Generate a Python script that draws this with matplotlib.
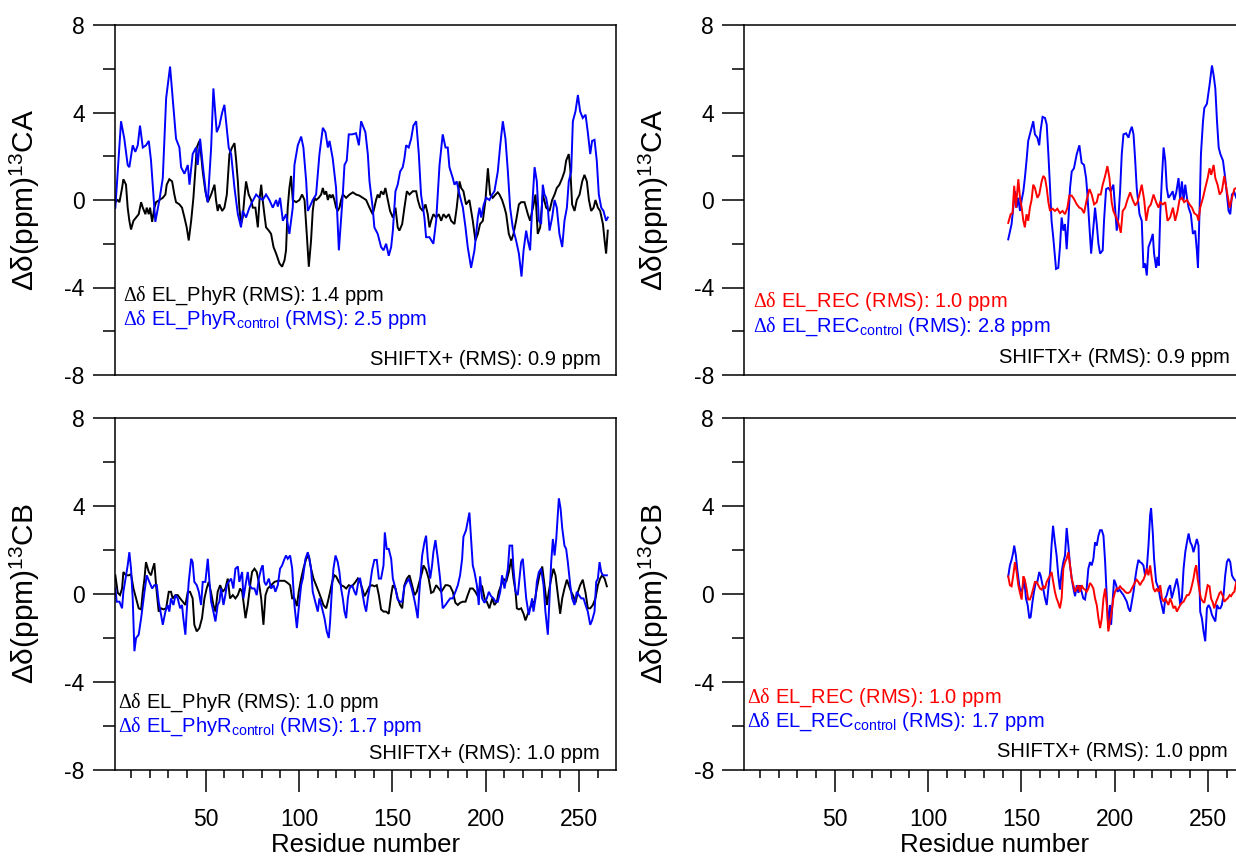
import matplotlib
matplotlib.use("Agg")
import matplotlib.pyplot as plt
from matplotlib.ticker import MultipleLocator

plt.rcParams['font.family'] = ['Liberation Sans', 'DejaVu Sans']
plt.rcParams['mathtext.fontset'] = 'custom'
plt.rcParams['mathtext.rm'] = 'Liberation Serif'
plt.rcParams['mathtext.sf'] = 'Liberation Sans'
plt.rcParams['mathtext.it'] = 'Liberation Serif:italic'
plt.rcParams['mathtext.bf'] = 'Liberation Serif:bold'

# ---------------- data (residue, delta ppm) ----------------
ca_phyr = [(1.7,-0.1),(3,0),(3.9,-0.1),(5.3,0.55),(6,0.95),(7.4,0.7),(8.3,-0.35),(9.2,-0.95),(10.1,-1.35),(11.4,-0.95),
 (12.8,-0.8),(14.2,-0.65),(15.5,-0.1),(16.4,-0.35),(17.8,-0.65),(18.5,-0.35),(19.6,-0.65),(20.3,-0.35),(21.4,-1.0),(22.6,-0.35),
 (23.5,-0.1),(25.3,0),(27.1,0.1),(28.5,0.25),(29.2,0.7),(30.6,0.95),(32.1,0.85),(33.3,0.25),(34.2,-0.1),(36,-0.2),
 (37.4,-0.35),(38.7,-0.8),(39.9,-1.25),(41,-1.85),(42.3,-0.95),(43.5,0.1),(44.6,1.45),(45.3,2.4),(46.7,2.7),(47.6,2.1),
 (48.5,1.3),(49.9,0.4),(51.2,-0.1),(53,0.25),(54.8,0.7),(55.6,0),(56.5,-0.5),(57.4,-0.2),(58.9,-0.5),(60.1,-0.35),
 (61.4,0.25),(62.8,2.1),(64.2,2.4),(65.5,2.6),(66.4,1.8),(67.3,0.85),(68.1,-0.35),(69,-1.1),(69.9,-0.8),(70.8,0.1),
 (71.7,0.85),(73.1,0.25),(74.4,0),(75.3,-0.35),(76.7,-0.35),(78,-1.25),(78.9,0),(79.8,0.7),(80.6,0),(81.5,-0.65),
 (82.4,-1.25),(83.9,-1.4),(85.1,-1.55),(86.4,-2.15),(87.8,-2.45),(89.6,-2.9),(91,-3.05),(92.3,-2.75),(93.1,-2.3),(94,-0.35),
 (94.9,0.55),(95.8,1.1),(96.7,0),(98.5,-0.1),(100.3,0),(101.7,0.25),(103,0),(104.2,-1.55),(105.3,-3.05),(106.5,-1.85),
 (107.4,-0.5),(108.3,0.1),(109.2,0),(110.6,0.1),(111.9,0.25),(112.8,0.55),(113.7,0.25),(114.6,0.4),(115.5,0),(116.4,0.25),
 (117.3,0.1),(118.1,0.25),(119,0),(119.9,-0.35),(120.8,-0.5),(121.7,-0.35),(122.6,0),(123.5,0.25),(125.3,0.1),(127.1,0.25),
 (128.9,0.35),(130.6,0.25),(132.4,0.2),(134.2,0.1),(136,0),(137.8,-0.35),(139.5,-0.65),(140.4,-0.35),(141.3,0),(142.2,0.25),
 (143.1,0.1),(144,0.4),(145.3,0.25),(146.3,0.55),(147.6,0),(148.8,-0.5),(150.3,-0.8),(151.7,-0.35),(152.9,-1.25),(153.8,-1.4),
 (155.3,-1.1),(156.5,-0.35),(157.8,0.4),(159.2,0.25),(161,0.4),(162.8,0.4),(163.7,0),(164.9,-0.35),(166.3,-0.5),(167.8,-0.2),
 (169,-0.65),(169.9,-1.25),(170.8,-0.95),(172,-0.65),(173.5,-0.8),(174.9,-0.65),(176.2,-0.95),(177.4,-0.65),(178.8,-0.8),(180.3,-0.65),
 (181.5,-0.95),(183.3,-1.1),(184.5,-0.35),(186,0.85),(186.9,0.55),(188.1,0.4),(189.5,-0.2),(191.3,0),(193.1,-0.95),(194.5,-1.85),
 (195.8,-1.55),(197,-1.1),(198.5,-0.95),(199.9,0),(201.2,1.45),(202.4,0.25),(203.8,0.1),(205.3,0.25),(206.5,0.35),(207.4,0.25),
 (208.8,0),(210.1,-0.35),(211,-0.65),(212.4,-1.55),(213.7,-1.85),(214.9,-1.55),(216.3,-0.95),(217.8,-0.2),(219,-0.1),(220.8,-0.1),
 (222.6,-0.65),(223.8,-0.95),(225.3,-0.35),(226.7,0.25),(227.9,-1.55),(229.2,-1.25),(230.6,0.25),(232.4,-0.35),(234.2,-0.5),(235.6,0),
 (236.9,0.25),(238.1,0.55),(239.5,0.7),(241,1.0),(242.2,1.3),(243.1,1.8),(244.5,2.1),(245.3,1.45),(246.3,-0.2),(247.6,-0.5),
 (248.8,0),(250.3,0.25),(251.7,0.85),(252.9,1.15),(254.2,0.85),(255.3,0),(256.5,-0.5),(257.8,-0.35),(258.8,0),(260.1,-0.35),
 (261.3,-0.5),(262.8,-1.1),(263.7,-1.85),(264.5,-2.45),(265.4,-1.4)]

ca_phyr_control = [(1.7,-0.35),(4.75,3.6),(6.5,2.8),(8.3,1.6),(9.2,1.5),(11,2.5),(12.4,2.2),(13.7,2.5),(14.9,3.4),(16.4,2.4),
 (18.1,2.5),(19.6,2.7),(20.8,1.8),(23.1,-1.0),(25.3,0),(27.1,1.0),(28.9,4.65),(31,6.1),(32.4,4.65),(34.2,2.8),
 (36,2.4),(36.9,1.5),(38.7,1.2),(40.5,1.6),(41.4,0.7),(43.1,2.1),(44.9,2.4),(45.8,1.6),(47.1,2.8),(48.5,1.6),
 (50.3,0.25),(51.2,-0.1),(53,2.4),(54.2,5.1),(56,3.1),(57.4,3.4),(58.9,4.0),(60.1,4.35),(61,3.6),(62.4,2.4),
 (63.7,2.1),(65.5,0.55),(67.3,-0.65),(69,-1.25),(69.9,-0.5),(71.7,-0.8),(73.5,-0.35),(74.9,-0.1),(77.1,0.25),(78.9,0.1),
 (80.6,0),(82.4,0.25),(84.2,0),(86,-0.35),(87.8,0),(88.7,-0.3),(89.9,0.1),(91.4,-0.95),(93.1,-0.65),(94.9,-1.55),
 (96.7,-0.35),(97.6,1.6),(99.4,2.5),(101.2,2.9),(102.4,2.4),(103.9,0.85),(104.75,-0.5),(105.6,-0.35),(107.4,0),(109.2,0.25),
 (111,2.1),(112.8,3.3),(114.2,3.1),(115.5,2.4),(116.4,2.7),(118.1,1.9),(119.9,0.55),(121.4,-2.3),(123.5,0.25),(124.4,1.6),
 (125.6,1.8),(126.7,3.0),(128.5,3.0),(130.6,3.05),(132.1,2.5),(133.3,3.6),(135.6,3.1),(136.9,2.1),(137.8,0.85),(139.5,-0.35),
 (140.4,-1.25),(142.2,-1.55),(144,-2.15),(145.3,-2.3),(146.7,-2.0),(148.1,-2.55),(149.4,-2.15),(150.3,-1.4),(151.7,0.4),(152.9,0.7),
 (154.2,1.3),(155.6,1.5),(156.5,1.9),(157.4,2.5),(158.8,2.4),(160.1,2.8),(161.3,3.4),(162.8,3.6),(164.2,2.1),(165.4,0.25),
 (167.2,-0.8),(168.1,-1.7),(169.9,-1.7),(172,-2.0),(173.5,-0.95),(175.3,1.6),(177,3.0),(178.5,2.4),(179.7,2.4),(180.6,1.5),
 (182.4,1.0),(183.3,0.7),(184.5,0.85),(186,0.25),(187.8,-0.35),(189.2,-1.25),(190.4,-2.15),(192.2,-3.1),(194,-2.3),(195.8,-0.8),
 (196.7,-0.35),(197.6,-0.8),(199,-0.2),(200.3,0.1),(202,0),(203.5,0.25),(204.7,0.4),(206.5,1.3),(207.8,2.5),(209.2,3.6),
 (210.6,2.8),(211.9,1.3),(213.1,-0.35),(214.5,-1.25),(216.3,-1.85),(217.8,-2.45),(219.2,-3.5),(220.3,-2.3),(221.7,-1.4),(222.6,-1.85),
 (223.8,-2.3),(224.9,-0.35),(226.2,1.5),(227.4,0.85),(228.5,-0.95),(229.7,-1.1),(230.6,0.7),(231.5,0.25),(232.4,0.1),(233.3,-0.35),
 (234.2,-1.4),(235.6,-0.8),(236.9,0),(238.1,-0.35),(239.5,-1.55),(241,-2.15),(242.2,-0.95),(243.5,-0.35),(244.5,0.85),(245.8,1.3),
 (246.7,3.6),(248.1,4.05),(249.4,4.8),(250.6,4.05),(252,3.75),(253.5,3.9),(254.7,3.1),(256,2.1),(257,2.7),(258.3,2.75),
 (259.5,1.8),(260.6,0.25),(261.9,-0.35),(263.1,-0.5),(264.5,-0.95),(265.4,-0.8)]

ca_rec = [(142.9,-1.05),(144.2,-0.65),(145.2,-0.6),(146.1,0.65),(147,-0.35),(148.3,0.95),(149.2,0.1),(150.1,-0.35),(151,-0.95),(151.8,-1.25),
 (152.7,-0.65),(153.6,-0.95),(154.5,-0.35),(155.4,0),(156.3,0.7),(157.2,0.55),(158.5,0.1),(159.5,0.25),(160.8,0.85),(161.7,1.1),
 (162.6,1.0),(163.5,0.55),(164.4,-0.1),(165.3,-0.5),(166.7,-0.4),(167.9,-0.5),(169.2,-0.4),(170.6,-0.6),(172,-0.5),(173.3,-0.65),
 (174.6,-0.35),(175.6,0.2),(176.9,0.2),(178.1,0.05),(179.6,-0.2),(181,-0.35),(182.2,-0.4),(183.5,-0.6),(184.9,0),(186.4,0.5),
 (187.6,0.25),(188.9,-0.2),(190.3,-0.1),(191.2,0.25),(192.4,0.25),(193.5,0.7),(194.8,1.1),(196,1.55),(197.1,1.0),(198.3,-0.1),
 (199.2,-0.5),(200.7,-0.8),(201.9,-1.05),(203.2,-1.5),(204.2,-0.5),(205.5,-0.35),(206.7,0),(208.2,0.35),(209.6,0),(210.9,-0.25),
 (212.1,-0.1),(213.2,0.25),(214.4,0.7),(215.7,0),(216.8,-0.95),(218,-0.35),(219.3,-0.2),(220.7,0.25),(222.1,-0.1),(223.4,-0.35),
 (224.3,-0.1),(225.7,-0.2),(227,-0.1),(228.2,-0.95),(229.6,-0.8),(231.1,-0.35),(232.3,-0.95),(233.6,-0.5),(234.6,0),(235.9,0.1),
 (237.1,-0.1),(238.6,0),(240,-0.2),(241.3,-0.35),(242.5,-0.6),(244,-0.7),(244.8,-0.95),(245.7,-0.35),(247.2,0.1),(248.4,0.55),
 (249.7,1.0),(250.7,1.45),(251.6,1.15),(252.9,1.6),(253.8,1.0),(255,0.7),(256.1,0.25),(257.3,0.4),(258.6,1.1),(260,0.4),
 (261.5,-0.35),(262.7,0.1),(264,0.5),(265,0.55)]

ca_rec_control = [(142.9,-1.8),(144.7,-1.1),(145.6,-0.35),(146.5,0.4),(147.4,-0.35),(148.3,0.1),(149.2,-0.5),(150.1,0),(151,0.4),(151.8,1.0),
 (152.7,1.8),(153.6,2.7),(154.5,3.0),(155.4,3.3),(156.3,3.6),(157.2,3.0),(158.5,2.85),(159.5,2.5),(160.2,3.15),(161.3,3.8),
 (162.6,3.75),(163.5,3.45),(164.4,2.1),(165.3,0.55),(166.1,-0.95),(167,-1.7),(168.5,-3.15),(169.7,-3.1),(170.6,-2.15),(171.5,-0.8),
 (172.4,-1.4),(173.3,-1.1),(174.2,-2.25),(175.1,-0.95),(176,0.55),(176.9,1.3),(178.1,1.45),(179.6,2.1),(181,2.5),(182.2,1.7),
 (183.5,1.6),(184.6,1.0),(185.3,0.25),(186.4,-1.25),(187.3,-2.45),(188.5,-1.25),(189.4,-0.35),(190.3,-1.1),(191.2,-2.0),(192.1,-2.45),
 (193.5,-2.3),(194.2,-0.95),(195.3,0.5),(196.5,0.55),(197.8,0.4),(199.2,0.7),(200.1,-0.35),(201,-1.4),(201.9,-0.8),(202.8,0.4),
 (203.7,2.1),(204.6,3.0),(206,3.05),(207.3,2.85),(208.2,3.15),(209.1,3.35),(210,3.0),(210.9,1.8),(211.7,0.55),(213.2,-0.65),
 (214.4,-0.95),(215.3,-3.1),(216.2,-2.9),(217.1,-3.45),(218,-2.15),(219.3,-1.85),(220.3,-1.55),(221,-2.45),(222.1,-3.1),(222.8,-2.6),
 (223.5,-3.0),(224.3,-0.65),(225.2,1.0),(226.1,2.4),(227,1.8),(227.8,0.55),(228.7,0.1),(230,0.25),(231,0.4),(231.8,0),
 (232.9,0.35),(234.1,1.0),(235,0),(235.9,0.85),(236.8,0),(237.7,0.7),(238.6,0.1),(239.5,-0.35),(240.7,-0.65),(241.8,-1.55),
 (243,-1.4),(243.9,-2.3),(244.5,-3.1),(245.4,-0.35),(246.1,2.1),(247.2,3.6),(247.9,4.2),(249.3,4.4),(250.7,5.25),(252,6.15),
 (252.9,5.7),(253.8,5.1),(254.7,3.6),(255.6,2.4),(256.5,2.1),(257.9,1.8),(259.1,1.0),(260,0.25),(260.9,-0.5),(261.8,-0.65),
 (262.7,0.25),(264,0.35),(265,0.1)]

cb_phyr = [(1.7,0.85),(3,0.05),(4.2,-0.05),(5.3,0.25),(6,1.0),(7.4,0.85),(8.9,0.85),(10.1,0.9),(11.4,0.25),(12.8,-0.2),
 (14.2,-0.65),(15.5,-0.7),(16.4,0.1),(17.3,0.7),(18.1,1.45),(19.6,1.0),(20.8,0.85),(21.7,1.15),(22.6,1.4),(23.5,0.4),
 (24.9,-0.8),(26.2,-0.65),(27.4,-0.7),(28.9,-0.65),(30.3,0.1),(31.5,0.1),(32.4,-0.2),(33.9,-0.05),(35.1,-0.05),(36.4,-0.2),
 (37.8,-0.35),(39.2,-0.5),(40.5,0.1),(41.7,0.1),(43.1,-0.2),(44,-1.4),(45.3,-1.7),(46.7,-1.55),(48.1,-1.1),(49.4,-0.2),
 (50.6,0.25),(51.7,0.55),(53,0.05),(54.2,-0.5),(55.3,-0.8),(56.5,0.1),(57.8,0.4),(59.2,0.1),(60.6,0.25),(61.9,0.7),
 (63.1,-0.2),(64.6,-0.05),(66,-0.2),(67.3,-0.05),(68.5,0.25),(69.6,0.1),(70.3,-0.35),(71.4,-1.1),(72.6,-0.5),(73.9,0.4),
 (74.9,1.0),(76.2,1.15),(77.4,1.0),(78.5,0.55),(79.8,-0.2),(81,-1.4),(82.1,-0.05),(83.3,0.25),(85.1,0.4),(86.9,0.55),
 (88.7,0.6),(90.5,0.6),(92.3,0.6),(94,0.5),(95.3,0.4),(96.4,-0.2),(97.6,-0.2),(98.9,-0.55),(99.9,0.1),(101.2,0.7),
 (102.4,1.15),(103.9,1.6),(105.3,1.75),(106.5,1.15),(107.8,0.7),(109.2,0.4),(110.6,0.1),(111.9,-0.2),(113.1,-0.5),(114.6,-0.65),
 (115.5,-0.35),(116.7,0.1),(117.8,0.55),(119,0.85),(119.9,0.8),(121.4,0.55),(122.6,0.4),(123.9,0.35),(125.3,0.25),(126.7,0.4),
 (128,0.35),(128.9,0.4),(130.3,0.55),(131.5,0.7),(132.8,0.55),(133.9,0.25),(135.1,-0.1),(136.4,0.1),(137.8,0.35),(139.2,0.4),
 (140.4,0.35),(141.7,0.4),(142.8,-0.05),(144,-0.7),(145.3,-0.8),(146.7,-0.8),(148.1,-0.9),(149.4,-0.05),(150.3,0.4),(151.7,0.25),
 (152.9,-0.2),(154.2,-0.5),(155.3,-0.65),(156.5,0.4),(157.8,0.7),(159.2,0.85),(160.6,0.4),(161.9,-0.05),(163.1,0.1),(164.5,0.55),
 (166,1.0),(166.7,1.3),(168.1,1.1),(169.5,0.7),(170.8,0.05),(172,0.1),(173.5,0.4),(174.9,0.25),(176.2,0.1),(177.4,0.25),
 (178.5,0.4),(179.7,0.4),(181,0.35),(182.4,0.1),(183.8,-0.4),(185.1,-0.5),(186.3,-0.4),(187.8,-0.35),(189.2,-0.35),(190.4,-0.05),
 (191.7,0.25),(193.1,0.25),(194.5,0.1),(195.8,-0.1),(197,0.4),(198.1,0.35),(199.4,-0.2),(200.6,-0.35),(202,-0.65),(203.5,-0.2),
 (204.7,-0.5),(206,-0.35),(207,0.1),(208.3,0.4),(209.5,0.7),(211,0.55),(212.4,1.0),(213.7,1.6),(214.9,0.7),(216,0.1),
 (216.7,-0.65),(217.8,-0.7),(219,-0.65),(220.3,-0.9),(221.3,-1.2),(222.6,-0.9),(223.8,-0.65),(224.9,-0.4),(226.2,-0.35),(227.4,0.25),
 (228.8,0.85),(230.3,1.25),(231.5,0.4),(232.8,-0.5),(233.8,0.1),(235.1,0.7),(236.3,1.15),(237.4,0.85),(238.7,-0.05),(239.9,-0.9),
 (241,-0.2),(242.2,0.25),(243.5,0.65),(244.5,0.4),(245.8,0.1),(247,-0.1),(248.1,-0.4),(249.4,0.1),(250.6,0.4),(252,0.65),
 (253.5,0.05),(254.7,-0.65),(256,-0.65),(257.4,-0.5),(258.8,-0.2),(260.1,0.4),(261.3,0.7),(262.4,0.85),(263.7,0.7),(264.9,0.35)]

cb_phyr_control = [(1.7,0.25),(2.4,-0.35),(3.9,-0.35),(5.3,-0.65),(6,0.1),(7.4,0.85),(8.3,1.3),(9.2,1.9),(10.1,1.15),(11,-0.2),
 (11.9,-2.6),(12.8,-2.0),(14.2,-1.85),(15.5,-1.1),(16.4,-0.5),(17.3,0.1),(18.5,0.85),(19.9,0.55),(21.4,0.25),(22.6,0.4),
 (23.9,0.4),(24.9,-0.35),(26.2,-0.95),(27.1,-1.4),(28.5,-0.8),(29.75,-0.5),(30.6,-0.8),(31.5,-0.2),(32.8,-0.5),(33.9,-0.05),
 (35.1,-0.2),(36.4,-0.65),(37.4,-0.5),(38.1,-1.1),(39.2,-1.85),(39.9,-0.8),(41,0.55),(42.3,1.6),(43.1,1.45),(44,0.55),
 (45.3,0.4),(46.4,0.1),(47.6,-0.5),(48.5,0.55),(49.9,0.55),(51.2,1.6),(52.1,0.55),(53,-0.35),(54.2,-0.8),(55.3,-1.25),
 (56.5,-0.5),(57.4,-0.35),(58.3,0.25),(59.6,-0.5),(60.6,-0.05),(61.4,0.4),(62.4,0.55),(63.7,0.7),(64.9,0.25),(66,1.15),
 (67.3,1.25),(68.1,0.55),(69.6,1.0),(70.3,-0.2),(71.4,0.4),(72.6,1.0),(73.5,0.4),(74.9,0.25),(76.2,0.25),(77.4,-0.05),
 (78.5,0.7),(79.8,1.15),(80.6,1.3),(81.5,0.55),(82.4,0.4),(83.9,0.7),(85.1,0.25),(86.4,0.4),(87.4,0.1),(88.7,0.4),
 (89.9,1.15),(91,1.3),(92.3,1.6),(93.1,1.75),(94,1.6),(95.3,1.75),(96.4,1.15),(97.6,-0.5),(98.9,-1.55),(99.9,-0.65),
 (101.2,0.4),(102.1,0.7),(103.5,1.6),(104.75,1.9),(105.6,1.6),(106.5,1.15),(107.4,0.1),(108.3,-0.2),(109.2,-0.5),(110.1,-0.8),
 (111,-0.2),(112.4,-0.65),(113.7,-1.1),(114.9,-1.7),(116,-2.0),(116.7,-1.25),(117.8,0.4),(118.5,1.15),(119.6,1.75),(120.8,1.45),
 (121.7,1.0),(122.6,0.25),(123.5,-0.2),(124.4,-0.8),(125.3,-1.1),(126.2,-0.2),(127.1,0.25),(128.5,0.4),(129.75,0.1),(130.6,-0.05),
 (132.1,0.7),(132.8,0.7),(133.9,0.1),(135.1,-0.5),(136,-0.8),(136.9,-0.2),(137.8,0.25),(139.2,1.1),(140.4,1.55),(141.7,1.55),
 (142.8,0.7),(144,0.7),(145.3,1.3),(146,2.8),(147,2.05),(148.1,2.05),(149.4,1.6),(150.3,0.7),(151.7,0.25),(152.9,-0.25),
 (154.2,-0.35),(155.3,-0.35),(156.5,0.35),(157.8,0.55),(158.8,0.7),(160.1,0.35),(161.3,-0.05),(162.4,-0.5),(163.6,-1.1),(164.5,0.1),
 (166,1.75),(167.2,2.35),(168.1,2.65),(169,1.6),(170.3,0.7),(171.3,1.3),(172,1.9),(173.1,2.45),(174.4,1.6),(175.6,0.7),
 (177,-0.65),(178.5,-0.5),(179.7,-0.35),(181,-0.2),(182.4,-0.2),(183.8,0.1),(185.1,0.4),(186.3,0.85),(187.4,1.6),(188.1,2.6),
 (189.5,2.9),(190.4,3.3),(191.3,3.7),(192.2,2.5),(193.1,1.3),(194,1.0),(195.3,0.4),(196.3,-0.5),(197,0.8),(198.1,-0.2),
 (199.4,-0.4),(200.6,-0.2),(201.7,0.1),(202.9,-0.1),(204.2,-0.2),(205.3,-0.35),(206.5,-0.35),(207.8,0.1),(208.8,0.85),(210.1,0.25),
 (211,0.7),(211.9,1.15),(212.8,2.2),(214.2,2.2),(214.9,1.15),(216,0.1),(217.2,-0.05),(218.1,0.7),(219,1.45),(219.9,1.6),
 (220.8,0.7),(221.7,-0.2),(223.1,-0.95),(223.8,-0.65),(224.9,-0.2),(225.6,-0.8),(226.7,-0.2),(227.4,0.55),(228.5,1.0),(229.7,1.15),
 (231,0.4),(232,-0.8),(233.3,-1.85),(234.2,-0.2),(235.1,1.45),(236,2.5),(236.9,1.75),(237.8,2.5),(238.7,3.7),(239.2,4.35),
 (240.1,3.9),(241,3.0),(242.2,2.2),(243.1,2.05),(244,1.45),(245.3,0.4),(246.3,-0.2),(247.6,-0.5),(248.8,0.1),(249.9,-0.05),
 (251.2,-0.2),(252.4,-0.2),(253.5,-0.5),(254.7,-0.8),(256,-1.4),(257,-1.2),(258.3,-0.8),(259.2,0.55),(260.1,0.7),(261,1.45),
 (261.9,1.0),(262.8,0.85),(263.7,0.85),(264.9,0.85)]

cb_rec = [(142.9,0.8),(143.8,0.4),(144.7,0.35),(145.6,0.85),(146.5,1.45),(147.4,1.0),(148.3,0.4),(149.2,0.05),(150.1,-0.25),(151,0.8),
 (151.8,0.65),(152.7,0.25),(153.6,-0.25),(154.5,-0.25),(155.4,-0.05),(156.3,0.25),(157.2,0.55),(158.1,0.55),(159,0.4),(159.9,0.25),
 (160.8,0.2),(161.7,0.35),(162.6,0.25),(163.5,0.55),(164.4,0.7),(165.3,0.85),(166.1,1.0),(167,0.55),(167.9,0.1),(168.8,-0.2),
 (169.7,-0.4),(170.6,-0.65),(171.5,-0.2),(172.4,1.15),(173.3,1.45),(174.2,1.6),(175.1,1.9),(176,1.3),(176.9,0.7),(177.8,0.4),
 (178.7,0.1),(179.6,0.25),(180.5,0.4),(181.3,0.1),(182.2,0.4),(183.1,0.25),(184,0.2),(184.9,0.1),(185.8,0.25),(186.7,0.5),
 (187.6,0.4),(188.5,0.25),(189.4,-0.2),(190.3,-0.5),(191.2,-1.1),(192.1,-1.55),(193,-1.1),(193.9,-0.2),(194.8,0.25),(195.7,-0.5),
 (196.5,-1.7),(197.4,-1.25),(198.3,-0.8),(199.2,-0.2),(200.1,0.1),(201,0.25),(201.9,0.25),(202.8,0.35),(203.7,0.25),(204.6,0.2),
 (205.5,0.1),(206.4,0.05),(207.3,0.05),(208.2,0.1),(209.1,0.25),(210,0.4),(210.9,0.55),(211.7,0.65),(212.6,0.55),(213.5,0.4),
 (214.4,0.55),(215.3,0.65),(216.2,0.85),(217.1,1.15),(218,0.85),(218.9,1.3),(219.8,0.7),(220.7,0.25),(221.6,0.1),(222.5,0.25),
 (223.4,0.1),(224.3,0.4),(225.2,-0.2),(226.1,-0.35),(227,-0.2),(227.8,-0.35),(228.7,-0.5),(229.6,-0.2),(230.5,-0.4),(231.4,-0.65),
 (232.3,-0.55),(233.2,-0.8),(234.1,-0.65),(235,-0.5),(235.9,-0.4),(236.8,-0.35),(237.7,-0.2),(238.6,-0.05),(239.5,-0.05),(240.4,0.1),
 (241.3,0.4),(242.1,0.7),(243,1.15),(243.6,1.3),(244.3,0.7),(245.4,0.1),(246.1,-0.2),(247.2,-0.35),(247.9,-0.4),(249,0.1),
 (249.7,0.4),(250.7,0.35),(251.5,-0.2),(252.5,-0.4),(253.2,-0.65),(254.3,-0.35),(255,-0.2),(256.1,0.05),(256.8,0.1),(257.9,-0.1),
 (258.6,-0.35),(259.7,-0.25),(260.4,-0.2),(261.5,-0.05),(262.2,-0.1),(263.3,0.05),(264,0.1),(265,0.55)]

cb_rec_control = [(142.9,0.8),(143.8,1.3),(144.7,1.55),(145.6,1.9),(146.1,2.2),(147,1.75),(147.7,1.15),(148.8,0.4),(149.5,0.1),(150.6,0.25),
 (151.5,0.65),(152.4,-0.2),(153.3,-0.5),(154.2,-1.1),(154.9,-1.05),(155.9,-0.35),(156.7,0.1),(157.7,0.55),(158.5,0.55),(159.5,1.0),
 (160.2,0.85),(161.3,0.4),(162.6,-0.2),(163.5,-0.5),(164.4,0.25),(165.3,1.0),(166.1,2.2),(166.9,3.1),(167.9,2.35),(168.8,1.75),
 (169.7,0.85),(170.6,0.2),(171.5,1.0),(172.4,1.45),(173.3,1.75),(174.2,3.0),(175.1,2.2),(176,1.3),(176.9,0.7),(177.8,0.25),
 (178.7,-0.1),(179.6,0.4),(180.5,0.05),(181.3,0.4),(182.2,0.1),(183.1,-0.2),(184,-0.25),(184.9,0.25),(185.8,1.15),(186.7,1.45),
 (187.6,1.3),(188.5,1.6),(189.4,2.35),(190.3,2.2),(191.2,2.65),(192.1,2.9),(193,2.9),(193.9,2.65),(194.8,1.45),(195.7,-0.2),
 (196.5,-1.55),(197.4,-0.5),(198,-1.4),(198.9,-0.2),(199.6,0.65),(200.7,0.4),(201.4,0.1),(202.5,0.2),(203.7,0.05),(204.6,-0.05),
 (205.5,-0.2),(206.4,-0.35),(207.3,-0.65),(208.2,-0.8),(209.1,-0.35),(210,0.1),(210.9,0.7),(211.7,1.15),(212.6,1.55),(213.5,1.45),
 (214.4,1.4),(215.3,1.3),(216.2,0.85),(217.1,1.15),(218,2.2),(218.9,3.6),(219.4,3.9),(220.3,2.8),(221,1.6),(222.1,0.55),
 (223.4,0.25),(224.3,-0.2),(225.2,-0.55),(226.1,-0.9),(227,-0.2),(227.8,-0.05),(228.7,0.25),(229.6,0.4),(230.5,-0.2),(231.4,0.1),
 (232.3,0.4),(233.2,0.7),(234.1,0.25),(235,-0.5),(235.9,-0.2),(236.8,1.15),(237.7,1.9),(238.6,2.35),(239.5,2.75),(240.4,2.35),
 (241.3,2.2),(242.1,1.9),(243,2.2),(243.9,2.5),(244.8,2.2),(245.7,-0.8),(246.6,-1.1),(247.5,-1.7),(248.4,-2.15),(249.3,-0.65),
 (250.2,-0.5),(251.1,-0.65),(252,-0.95),(252.9,-1.1),(253.8,-1.25),(254.7,-0.5),(255.6,-0.65),(256.5,-0.65),(257.3,-0.5),(258.2,-0.05),
 (259.1,0.85),(260,1.45),(260.9,1.6),(261.8,1.45),(262.7,0.85),(263.6,0.7),(265,0.55)]

rms_text = {
    'ca_left': ["1.4", "2.5", "0.9"],
    'ca_right': ["1.0", "2.8", "0.9"],
    'cb_left': ["1.0", "1.7", "1.0"],
    'cb_right': ["1.0", "1.7", "1.0"],
}
yticks_major = [-8, -4, 0, 4, 8]
xticks_major = [50, 100, 150, 200, 250]

# ---------------- figure ----------------
W, H = 1236, 858
fig = plt.figure(figsize=(W / 100, H / 100), dpi=100)

def px_axes(left, top, right, bottom):
    return fig.add_axes([left / W, 1 - bottom / H, (right - left) / W, (bottom - top) / H])

ax_tl = px_axes(114.6, 25, 616, 375)
ax_tr = px_axes(743.8, 25, 1245.2, 375)
ax_bl = px_axes(114.6, 418, 616, 770)
ax_br = px_axes(743.8, 418, 1245.2, 770)

BLUE = '#0000ff'
RED = '#ff0000'
LW = 1.4

def draw(ax, series, colors):
    for data, c in zip(series, colors):
        xs, ys = zip(*data)
        ax.plot(xs, ys, color=c, lw=LW, solid_joinstyle='miter')

draw(ax_tl, [ca_phyr, ca_phyr_control], ['black', BLUE])
draw(ax_tr, [ca_rec_control, ca_rec], [BLUE, RED])
draw(ax_bl, [cb_phyr, cb_phyr_control], ['black', BLUE])
draw(ax_br, [cb_rec_control, cb_rec], [BLUE, RED])

for ax in (ax_tl, ax_tr, ax_bl, ax_br):
    ax.set_xlim(1.3, 269.8)
    ax.set_ylim(-8, 8)
    for s in ax.spines.values():
        s.set_linewidth(1.1)
    ax.set_yticks(yticks_major)
    ax.set_yticklabels([str(v) for v in yticks_major])
    ax.yaxis.set_minor_locator(MultipleLocator(2))
    ax.tick_params(axis='y', which='major', direction='out', length=16, width=1.1,
                   labelsize=16.5, pad=5.5, right=False)
    ax.tick_params(axis='y', which='minor', direction='out', length=8.5, width=1.1, right=False)
    ax.yaxis.set_label_coords(-0.145, 0.5)

for ax in (ax_tl, ax_tr):
    ax.tick_params(axis='x', which='both', bottom=False, top=False, labelbottom=False)
    ax.set_ylabel('Δδ(ppm)$^{\\mathsf{13}}$CA', fontsize=21.5)

for ax in (ax_bl, ax_br):
    ax.set_xticks(xticks_major)
    ax.set_xticklabels([str(v) for v in xticks_major])
    ax.xaxis.set_minor_locator(MultipleLocator(10))
    ax.tick_params(axis='x', which='major', direction='out', length=16, width=1.1,
                   labelsize=16.5, pad=11, top=False)
    ax.tick_params(axis='x', which='minor', direction='out', length=5.5, width=1.1, top=False)
    ax.set_ylabel('Δδ(ppm)$^{\\mathsf{13}}$CB', fontsize=21.5)
    ax.set_xlabel('Residue number', fontsize=18.5)
    ax.xaxis.set_label_coords(0.5, -0.18)

DD = r'$\mathrm{\Delta\delta}$'
FS = 14.5

def annotate(ax, name, key, c1, y1, y2, y3, x1=0.017, x3=0.97):
    r = rms_text[key]
    ax.text(x1, y1, f'{DD} EL_{name} (RMS): {r[0]} ppm', transform=ax.transAxes,
            color=c1, fontsize=FS, va='baseline', ha='left')
    ax.text(x1, y2, f'{DD} EL_{name}' + r'$_{\mathsf{control}}$' + f' (RMS): {r[1]} ppm',
            transform=ax.transAxes, color=BLUE, fontsize=FS, va='baseline', ha='left')
    ax.text(x3, y3, f'SHIFTX+ (RMS): {r[2]} ppm', transform=ax.transAxes,
            color='black', fontsize=FS, va='baseline', ha='right')

annotate(ax_tl, 'PhyR', 'ca_left', 'black', 0.211, 0.143, 0.029)
annotate(ax_tr, 'REC', 'ca_right', RED, 0.194, 0.123, 0.034, x1=0.018, x3=0.970)
annotate(ax_bl, 'PhyR', 'cb_left', 'black', 0.176, 0.108, 0.031, x1=0.0074, x3=0.967)
annotate(ax_br, 'REC', 'cb_right', RED, 0.19, 0.122, 0.037, x1=0.007, x3=0.966)

fig.savefig('out.png', dpi=100)
